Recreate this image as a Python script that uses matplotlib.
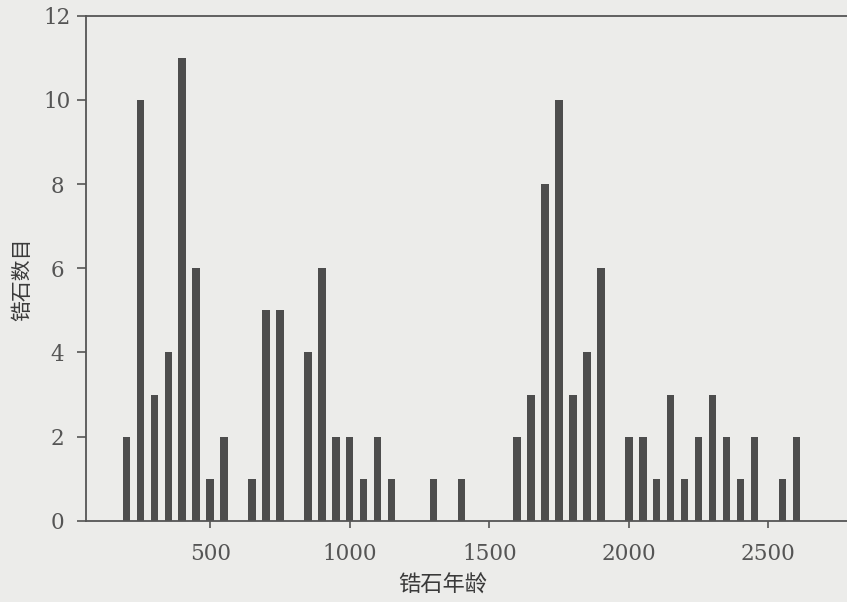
import matplotlib
matplotlib.use('Agg')
import matplotlib.pyplot as plt

# zircon age bins (Ma, bin centres) and counts
ages = [200, 250, 300, 350, 400, 450, 500, 550, 600, 650, 700, 750, 800,
        850, 900, 950, 1000, 1050, 1100, 1150, 1200, 1250, 1300, 1350, 1400,
        1450, 1500, 1550, 1600, 1650, 1700, 1750, 1800, 1850, 1900, 1950,
        2000, 2050, 2100, 2150, 2200, 2250, 2300, 2350, 2400, 2450, 2500,
        2550, 2600]
counts = [2, 10, 3, 4, 11, 6, 1, 2, 0, 1, 5, 5, 0,
          4, 6, 2, 2, 1, 2, 1, 0, 0, 1, 0, 1,
          0, 0, 0, 2, 3, 8, 10, 3, 4, 6, 0,
          2, 2, 1, 3, 1, 2, 3, 2, 1, 2, 0,
          1, 2]

xticks = [500, 1000, 1500, 2000, 2500]
yticks = [0, 2, 4, 6, 8, 10, 12]

paper = '#ececea'
ink = '#4d4d4d'

plt.rcParams['font.family'] = ['DejaVu Serif', 'Noto Sans CJK SC']

fig = plt.figure(figsize=(8.47, 6.02), dpi=100, facecolor=paper)
ax = fig.add_axes([0.1015, 0.1346, 0.921, 0.8396])
ax.set_facecolor(paper)

ax.bar(ages, counts, width=27, color=ink, edgecolor='none')

ax.set_xlim(55, 2850)
ax.set_ylim(0, 12)
ax.set_xticks(xticks)
ax.set_yticks(yticks)
ax.set_yticklabels([str(v) for v in yticks], ha='center')
ax.tick_params(axis='both', direction='out', width=1.2, color='#555555',
               labelsize=15.5, labelcolor='#555555')
ax.tick_params(axis='x', length=5, pad=11)
ax.tick_params(axis='y', length=6.5, pad=14)

for side in ['left', 'bottom', 'top']:
    ax.spines[side].set_color('#555555')
    ax.spines[side].set_linewidth(1.3)
ax.spines['right'].set_visible(False)

fig.text(443 / 847, 1 - 585 / 602, '锆石年龄', ha='center', va='center',
         fontsize=16, color='#3a3a3a', family=['Noto Sans CJK SC'])
fig.text(22 / 847, 1 - 279 / 602, '锆石数目', ha='center', va='center',
         rotation=90, fontsize=15, color='#3a3a3a', family=['Noto Sans CJK SC'])

fig.savefig('out.png', dpi=100, facecolor=paper)
